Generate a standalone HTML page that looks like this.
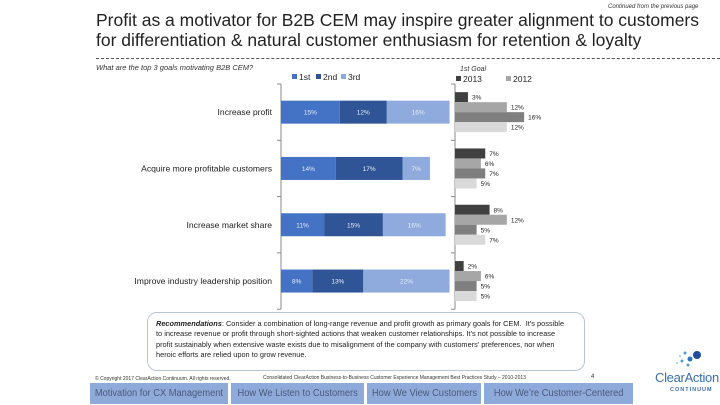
<!DOCTYPE html>
<html><head><meta charset="utf-8"><style>
body{margin:0;width:720px;height:405px;background:#fff;font-family:"Liberation Sans",sans-serif;position:relative;overflow:hidden}
.abs{position:absolute}
.tab{position:absolute;top:383px;height:21px;background:#8eaadb;color:#4a5a78;font-size:10px;line-height:21px;text-align:center;white-space:nowrap;overflow:hidden}
.tab span{display:inline-block;transform:scaleX(0.93)}
.rl{white-space:nowrap;transform:scaleX(0.97);transform-origin:left}
</style></head><body>
<div class="abs" style="left:608px;top:4px;font-size:6px;font-style:italic;color:#333">Continued from the previous page</div>
<div class="abs" style="left:96px;top:10px;font-size:17.5px;line-height:20px;color:#222;width:620px">Profit as a motivator for B2B CEM may inspire greater alignment to customers for differentiation &amp; natural customer enthusiasm for retention &amp; loyalty</div>
<div class="abs" style="left:96px;top:58px;width:624px;border-top:1px dashed #555"></div>
<div class="abs" style="left:96px;top:63px;font-size:7.5px;font-style:italic;color:#333">What are the top 3 goals motivating B2B CEM?</div>
<svg class="abs" style="left:0;top:0" width="720" height="405" id="chart"></svg>
<div class="abs" style="left:147px;top:312px;width:420px;height:45px;padding:6px 8px;border:1px solid #b8c4d8;border-radius:10px;font-size:7.6px;line-height:10.3px;color:#222">
<div class="rl"><b><i>Recommendations</i></b>: Consider a combination of long-range revenue and profit growth as primary goals for CEM.&nbsp; It’s possible</div>
<div class="rl">to increase revenue or profit through short-sighted actions that weaken customer relationships. It’s not possible to increase</div>
<div class="rl">profit sustainably when extensive waste exists due to misalignment of the company with customers’ preferences, nor when</div>
<div class="rl">heroic efforts are relied upon to grow revenue.</div>
</div>
<div class="abs" style="left:95px;top:376px;font-size:5px;color:#333;white-space:nowrap">© Copyright 2017 ClearAction Continuum. All rights reserved.</div>
<div class="abs" style="left:263px;top:375px;font-size:5px;color:#333;white-space:nowrap">Consolidated ClearAction Business-to-Business Customer Experience Management Best Practices Study – 2010-2013</div>
<div class="abs" style="left:591px;top:374px;font-size:6px;color:#333">4</div>
<div class="tab" style="left:90px;width:138px"><span>Motivation for CX Management</span></div>
<div class="tab" style="left:231px;width:133px"><span>How We Listen to Customers</span></div>
<div class="tab" style="left:367px;width:114px"><span>How We View Customers</span></div>
<div class="tab" style="left:484px;width:149px"><span>How We’re Customer-Centered</span></div>
<svg class="abs" style="left:668px;top:347px" width="40" height="24"><circle cx="29" cy="8" r="4" fill="#1f4e9c"/><circle cx="22" cy="12" r="2.5" fill="#2e75b6"/><circle cx="17" cy="6" r="1.5" fill="#5b9bd5"/><circle cx="14" cy="14" r="1.5" fill="#5b9bd5"/><circle cx="20" cy="18" r="1.5" fill="#5b9bd5"/><circle cx="12" cy="9" r="1" fill="#9dc3e6"/><circle cx="9" cy="16" r="1" fill="#9dc3e6"/></svg>
<div class="abs" style="left:655px;top:370px;font-size:13px;color:#3a6ea5;letter-spacing:-0.3px">ClearAction</div>
<div class="abs" style="left:670px;top:387px;font-size:5.5px;color:#3a6ea5;letter-spacing:1px;font-weight:bold">CONTINUUM</div>
<script>
const categories=["Increase profit","Acquire more profitable customers","Increase market share","Improve industry leadership position"];
const first=[15,14,11,8];
const second=[12,17,15,13];
const third=[16,7,16,22];
const goal2013=[3,7,8,2];
const goal2012=[12,6,12,6];
const goalC=[16,7,5,5];
const goalD=[12,5,7,5];
const svg=document.getElementById('chart');
const NS='http://www.w3.org/2000/svg';
function mk(t,a,txt){const e=document.createElementNS(NS,t);for(const k in a)e.setAttribute(k,a[k]);if(txt!==undefined)e.textContent=txt;svg.appendChild(e);return e;}
const lx0=281,lpx=3.92,top0=84,rowH=56.3;
function lx(v){return lx0+v*lpx;}
function rowY(i){return top0+rowH*i;}
let ax=mk('line',{x1:lx0,y1:top0,x2:lx0,y2:top0+rowH*4,stroke:'#888'});

for(let i=0;i<=4;i++){const t=mk('line',{x1:lx0-4,y1:rowY(i),x2:lx0,y2:rowY(i),stroke:'#888'});}
const cols=['#4472c4','#2f5597','#8faadc'];
const series=[first,second,third];
categories.forEach((c,i)=>{
 const yc=rowY(i)+rowH/2;
 const lab=mk('text',{x:lx0-9,y:yc+3,'text-anchor':'end','font-size':8.6,fill:'#222'},c);
 
 let acc=0;
 series.forEach((s,j)=>{
  const r=mk('rect',{x:lx(acc),y:yc-11.5,width:s[i]*lpx,height:23,fill:cols[j]});
  
  const t=mk('text',{x:lx(acc+s[i]/2),y:yc+2.5,'text-anchor':'middle','font-size':6.5,fill:'#e8eef8'},s[i]+'%');
  
  acc+=s[i];
 });
});
[['1st',292],['2nd',316],['3rd',341]].forEach((l,j)=>{
 const r=mk('rect',{x:l[1],y:74,width:5,height:5,fill:cols[j]});
 const t=mk('text',{x:l[1]+7,y:80,'font-size':8.5,fill:'#222'},l[0]);
});
const rx0=455,rpx=4.32;
function rx(v){return rx0+v*rpx;}
let ax2=mk('line',{x1:rx0,y1:top0,x2:rx0,y2:top0+rowH*4,stroke:'#888'});

for(let i=0;i<=4;i++){const t=mk('line',{x1:rx0-4,y1:rowY(i),x2:rx0,y2:rowY(i),stroke:'#888'});}
const rcols=['#404040','#a6a6a6','#7f7f7f','#d9d9d9'];
const rs=[goal2013,goal2012,goalC,goalD];
categories.forEach((c,i)=>{
 const yc=rowY(i)+rowH/2;
 rs.forEach((s,j)=>{
  const y=yc-20+j*10;
  const r=mk('rect',{x:rx0,y:y,width:s[i]*rpx,height:10,fill:rcols[j]});
  
  const t=mk('text',{x:rx(s[i])+4,y:y+7.5,'font-size':6.5,fill:'#222'},s[i]+'%');
  
 });
});
const g=mk('text',{x:460,y:71,'font-size':7,'font-style':'italic',fill:'#333'},'1st Goal');
[['2013',456,'#404040'],['2012',506,'#a6a6a6']].forEach(l=>{
 const r=mk('rect',{x:l[1],y:76,width:5,height:5,fill:l[2]});
 const t=mk('text',{x:l[1]+7,y:82,'font-size':8.5,fill:'#222'},l[0]);
});
</script>
</body></html>
